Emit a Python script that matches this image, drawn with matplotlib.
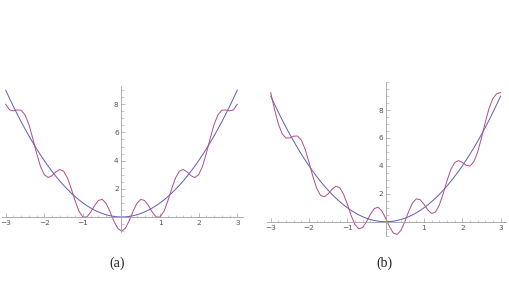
import matplotlib
matplotlib.use("Agg")
import matplotlib.pyplot as plt
import numpy as np
from matplotlib.ticker import MultipleLocator, FixedLocator

# sample positions (read at 0.1 steps from the picture)
x_vals = [round(-3 + 0.1 * i, 1) for i in range(61)]

# blue curve (parabola) values
blue_vals = [9.00, 8.41, 7.84, 7.29, 6.76, 6.25, 5.76, 5.29, 4.84, 4.41,
             4.00, 3.61, 3.24, 2.89, 2.56, 2.25, 1.96, 1.69, 1.44, 1.21,
             1.00, 0.81, 0.64, 0.49, 0.36, 0.25, 0.16, 0.09, 0.04, 0.01,
             0.00,
             0.01, 0.04, 0.09, 0.16, 0.25, 0.36, 0.49, 0.64, 0.81, 1.00,
             1.21, 1.44, 1.69, 1.96, 2.25, 2.56, 2.89, 3.24, 3.61, 4.00,
             4.41, 4.84, 5.29, 5.76, 6.25, 6.76, 7.29, 7.84, 8.41, 9.00]

# red curve, panel (a)
red_a = [8.00, 7.60, 7.53, 7.60, 7.57, 7.25, 6.57, 5.60, 4.53, 3.60,
         3.00, 2.80, 2.93, 3.20, 3.37, 3.25, 2.77, 2.00, 1.13, 0.40,
         0.00, 0.00, 0.33, 0.80, 1.17, 1.25, 0.97, 0.40, -0.27, -0.80,
         -1.00,
         -0.80, -0.27, 0.40, 0.97, 1.25, 1.17, 0.80, 0.33, 0.00, 0.00,
         0.40, 1.13, 2.00, 2.77, 3.25, 3.37, 3.20, 2.93, 2.80, 3.00,
         3.60, 4.53, 5.60, 6.57, 7.25, 7.57, 7.60, 7.53, 7.60, 8.00]

# red curve, panel (b)
red_b = [9.25, 8.04, 6.99, 6.29, 5.99, 6.00, 6.13, 6.14, 5.84, 5.18,
         4.25, 3.24, 2.39, 1.89, 1.79, 2.00, 2.33, 2.54, 2.44, 1.98,
         1.25, 0.44, -0.21, -0.51, -0.41, 0.00, 0.53, 0.94, 1.04, 0.78,
         0.25,
         -0.36, -0.81, -0.91, -0.61, 0.00, 0.73, 1.34, 1.64, 1.58, 1.25,
         0.84, 0.59, 0.69, 1.19, 2.00, 2.93, 3.74, 4.24, 4.38, 4.25,
         4.04, 3.99, 4.29, 4.99, 6.00, 7.13, 8.14, 8.84, 9.18, 9.25]

x_major = [-3, -2, -1, 1, 2, 3]
x_labels = ["\u22123", "\u22122", "\u22121", "1", "2", "3"]
y_major = [2, 4, 6, 8]
y_labels = ["2", "4", "6", "8"]
panel_labels = ["(a)", "(b)"]

BLUE = "#5c5cbc"
RED = "#b24c8a"
AXC = "#a0a0a0"
TXT = "#555555"

fig = plt.figure(figsize=(5.10, 2.92), dpi=100)

def setup(ax, ylim):
    ax.set_xlim(-3.1, 3.15)
    ax.set_ylim(*ylim)
    for s in ["top", "right"]:
        ax.spines[s].set_visible(False)
    ax.spines["left"].set_position(("data", 0))
    ax.spines["bottom"].set_position(("data", 0))
    for s in ["left", "bottom"]:
        ax.spines[s].set_color(AXC)
        ax.spines[s].set_linewidth(0.6)
    ax.xaxis.set_major_locator(FixedLocator(x_major))
    ax.set_xticklabels(x_labels)
    ax.xaxis.set_minor_locator(MultipleLocator(0.2))
    ax.yaxis.set_major_locator(FixedLocator(y_major))
    ax.set_yticklabels(y_labels)
    ax.yaxis.set_minor_locator(MultipleLocator(0.5))
    ax.tick_params(axis="both", which="major", direction="in", length=3,
                   width=0.5, color=AXC, labelsize=5.3, labelcolor=TXT, pad=2)
    ax.tick_params(axis="both", which="minor", direction="in", length=1.8,
                   width=0.4, color=AXC)
    ax.patch.set_alpha(0)

ax1 = fig.add_axes([0.0036, 0.2038, 0.473, 0.502])
setup(ax1, (-1.1, 9.3))
ax1.plot(x_vals, blue_vals, color=BLUE, lw=0.7)
ax1.plot(x_vals, red_a, color=RED, lw=0.7)

ax2 = fig.add_axes([0.5233, 0.1928, 0.4696, 0.526])
setup(ax2, (-1.0, 10.0))
ax2.plot(x_vals, blue_vals, color=BLUE, lw=0.7)
ax2.plot(x_vals, red_b, color=RED, lw=0.7)

fig.text(117.5 / 510, 1 - 263 / 292, panel_labels[0], ha="center", va="center",
         family="Liberation Serif", fontsize=10, color="#222222")
fig.text(384.5 / 510, 1 - 263 / 292, panel_labels[1], ha="center", va="center",
         family="Liberation Serif", fontsize=10, color="#222222")

fig.savefig("out.png", dpi=100, facecolor="white")
